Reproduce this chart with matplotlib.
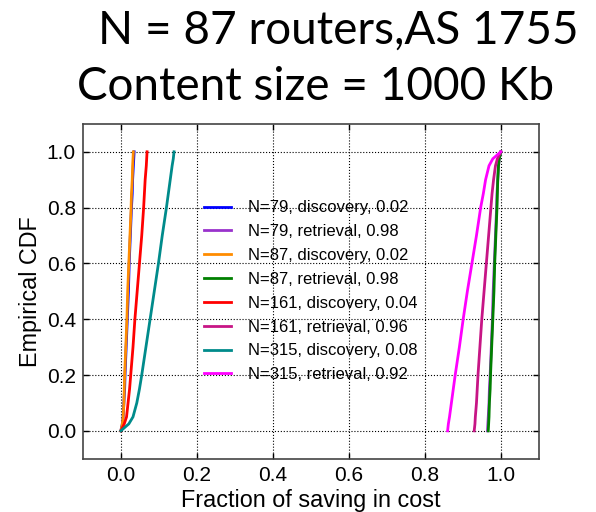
import matplotlib
matplotlib.use("Agg")
import matplotlib.pyplot as plt
import numpy as np

# CDF levels shared by all curves
cdf_levels = [0.0, 0.025, 0.05, 0.1, 0.15, 0.2, 0.3, 0.4, 0.5, 0.6, 0.7,
              0.8, 0.85, 0.9, 0.95, 0.975, 1.0]

# fraction of saving in cost at each CDF level
n79_disc = [0.0, 0.004, 0.006, 0.008, 0.010, 0.011, 0.014, 0.017, 0.020,
            0.022, 0.025, 0.028, 0.030, 0.031, 0.033, 0.034, 0.035]
n79_retr = [0.965, 0.966, 0.967, 0.969, 0.970, 0.972, 0.975, 0.978, 0.980,
            0.983, 0.986, 0.989, 0.990, 0.992, 0.994, 0.996, 1.0]
n87_disc = [0.0, 0.004, 0.006, 0.008, 0.009, 0.010, 0.013, 0.016, 0.018,
            0.021, 0.024, 0.027, 0.028, 0.030, 0.031, 0.032, 0.033]
n87_retr = [0.967, 0.968, 0.969, 0.970, 0.972, 0.973, 0.976, 0.979, 0.982,
            0.984, 0.987, 0.990, 0.991, 0.992, 0.994, 0.996, 1.0]
n161_disc = [0.0, 0.009, 0.015, 0.019, 0.023, 0.026, 0.032, 0.037, 0.043,
             0.049, 0.055, 0.060, 0.062, 0.064, 0.067, 0.068, 0.069]
n161_retr = [0.930, 0.932, 0.933, 0.936, 0.938, 0.940, 0.945, 0.950, 0.956,
             0.962, 0.968, 0.974, 0.977, 0.981, 0.986, 0.991, 1.0]
n315_disc = [0.0, 0.021, 0.032, 0.042, 0.049, 0.055, 0.066, 0.077, 0.088,
             0.099, 0.109, 0.120, 0.125, 0.130, 0.135, 0.138, 0.140]
n315_retr = [0.860, 0.862, 0.865, 0.870, 0.875, 0.880, 0.891, 0.901, 0.912,
             0.924, 0.936, 0.947, 0.954, 0.960, 0.969, 0.979, 1.0]

labels = ["N=79, discovery, 0.02", "N=79, retrieval, 0.98",
          "N=87, discovery, 0.02", "N=87, retrieval, 0.98",
          "N=161, discovery, 0.04", "N=161, retrieval, 0.96",
          "N=315, discovery, 0.08", "N=315, retrieval, 0.92"]
colors = ["#0000ff", "#9932cc", "#ff8c00", "#008000",
          "#ff0000", "#c71585", "#008b8b", "#ff00ff"]
series = [n79_disc, n79_retr, n87_disc, n87_retr,
          n161_disc, n161_retr, n315_disc, n315_retr]

plt.rcParams['font.family'] = ['Liberation Sans', 'DejaVu Sans']

fig = plt.figure(figsize=(5.96, 5.12), dpi=100)
ax = fig.add_axes([0.139, 0.104, 0.765, 0.654])

for xs, c, lab in zip(series, colors, labels):
    ax.plot(xs, cdf_levels, color=c, lw=2, label=lab)

ax.set_xlim(-0.1, 1.1)
ax.set_ylim(-0.1, 1.1)
ax.set_xticks([0.0, 0.2, 0.4, 0.6, 0.8, 1.0])
ax.set_yticks([0.0, 0.2, 0.4, 0.6, 0.8, 1.0])
ax.tick_params(direction='in', top=True, right=True, labelsize=15, length=4, width=1, pad=5)
ax.grid(True, color='black', linestyle=':', linewidth=0.8)
for s in ax.spines.values():
    s.set_color('#444444')
    s.set_linewidth(1.2)

ax.set_xlabel("Fraction of saving in cost", fontsize=16.8, labelpad=3)
ax.set_ylabel("Empirical CDF", fontsize=16.8, labelpad=3)

ax.legend(loc='center', bbox_to_anchor=(0.5, 0.5), frameon=False, fontsize=12,
          handlelength=1.6, handletextpad=1.0, labelspacing=0.53)

fig.text(0.567, 0.915, "N = 87 routers,AS 1755", ha='center', va='baseline',
         fontsize=33, family='Lato')
fig.text(0.529, 0.805, "Content size = 1000 Kb", ha='center', va='baseline',
         fontsize=33, family='Lato')

fig.savefig("out.png", dpi=100)
